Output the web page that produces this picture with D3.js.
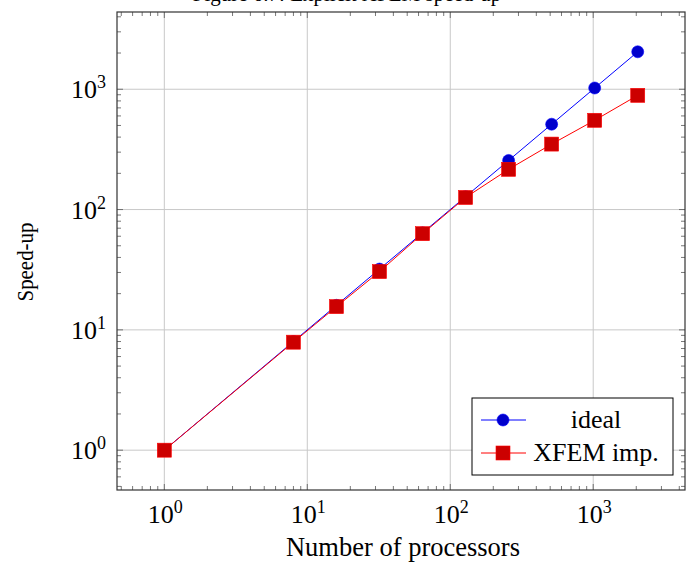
<!DOCTYPE html>
<html>
<head>
<meta charset="utf-8">
<script src="https://cdn.jsdelivr.net/npm/d3@7"></script>
<style>
  body { margin: 0; background: #fff; }
  text { font-family: "Liberation Serif", "DejaVu Serif", serif; fill: #000; }
</style>
</head>
<body>
<div id="chart"></div>
<script>
"use strict";

// processor counts (x) and measured speed-up (y)
const processors = [1, 8, 16, 32, 64, 128, 256, 512, 1024, 2048];
const ideal = [1, 8, 16, 32, 64, 128, 256, 512, 1024, 2048];
const xfem = [1, 7.9, 15.6, 30.5, 63, 126, 216, 350, 552, 890];
const decades = [1, 10, 100, 1000];
const seriesNames = ["ideal", "XFEM imp."];

const width = 688, height = 562;
const box = { left: 117, right: 685, top: 12, bottom: 490 };

const svg = d3.select("#chart").append("svg")
    .attr("width", width)
    .attr("height", height);

// pgfplots style: enlarge log limits by 10% of the data range
const lo = Math.pow(10, -0.331), hi = Math.pow(10, 3.642);
const x = d3.scaleLog().domain([lo, hi]).range([box.left, box.right]);
const y = d3.scaleLog().domain([lo, hi]).range([box.bottom, box.top]);

const minors = [];
for (let e = -1; e <= 3; ++e) {
    for (let k = 2; k <= 9; ++k) {
        const v = k * Math.pow(10, e);
        if (v >= lo && v <= hi) minors.push(v);
    }
}

// grid
const grid = svg.append("g").attr("stroke", "#c8c8c8").attr("stroke-width", 1);
grid.selectAll(".gx").data(decades).enter().append("line")
    .attr("x1", d => x(d)).attr("x2", d => x(d))
    .attr("y1", box.top).attr("y2", box.bottom);
grid.selectAll(".gy").data(decades).enter().append("line")
    .attr("y1", d => y(d)).attr("y2", d => y(d))
    .attr("x1", box.left).attr("x2", box.right);

// inward ticks on all four sides
const ticks = svg.append("g").attr("stroke", "#555").attr("stroke-width", 0.8);
const tickSet = decades.map(d => ({ v: d, len: 6 })).concat(minors.map(d => ({ v: d, len: 4 })));
tickSet.forEach(t => {
    ticks.append("line").attr("x1", x(t.v)).attr("x2", x(t.v))
        .attr("y1", box.bottom).attr("y2", box.bottom - t.len);
    ticks.append("line").attr("x1", x(t.v)).attr("x2", x(t.v))
        .attr("y1", box.top).attr("y2", box.top + t.len);
    ticks.append("line").attr("y1", y(t.v)).attr("y2", y(t.v))
        .attr("x1", box.left).attr("x2", box.left + t.len);
    ticks.append("line").attr("y1", y(t.v)).attr("y2", y(t.v))
        .attr("x1", box.right).attr("x2", box.right - t.len);
});

svg.append("rect")
    .attr("x", box.left).attr("y", box.top)
    .attr("width", box.right - box.left).attr("height", box.bottom - box.top)
    .attr("fill", "none").attr("stroke", "#333").attr("stroke-width", 1.2);

// tick labels 10^n
const powerLabel = function (sel) {
    sel.append("tspan").text("10");
    sel.append("tspan").attr("dy", -10).attr("font-size", 18).text(d => Math.round(Math.log10(d)));
};
svg.selectAll(".xl").data(decades).enter().append("text")
    .attr("x", d => x(d) + 1).attr("y", 523)
    .attr("text-anchor", "middle").attr("font-size", 26)
    .call(powerLabel);
svg.selectAll(".yl").data(decades).enter().append("text")
    .attr("x", 106).attr("y", d => y(d) + 9)
    .attr("text-anchor", "end").attr("font-size", 26)
    .call(powerLabel);

// axis titles
svg.append("text").attr("x", (box.left + box.right) / 2 + 2).attr("y", 556)
    .attr("text-anchor", "middle").attr("font-size", 26.5).text("Number of processors");
svg.append("text").attr("transform", "translate(33," + 262 + ") rotate(-90)")
    .attr("text-anchor", "middle").attr("font-size", 24)
    .attr("textLength", 79).attr("lengthAdjust", "spacingAndGlyphs").text("Speed-up");
svg.append("text").attr("x", 347).attr("y", 1)
    .attr("text-anchor", "middle").attr("font-size", 21).text("Figure 6.7: Explicit XFEM speed-up");

// series
const line = d3.line().x(d => x(d[0])).y(d => y(d[1]));
const idealPts = processors.map((p, i) => [p, ideal[i]]);
const xfemPts = processors.map((p, i) => [p, xfem[i]]);

svg.append("path").attr("d", line(idealPts))
    .attr("fill", "none").attr("stroke", "#0000ff").attr("stroke-width", 1);
svg.append("path").attr("d", line(xfemPts))
    .attr("fill", "none").attr("stroke", "#ff0000").attr("stroke-width", 1);

svg.selectAll(".ci").data(idealPts).enter().append("circle")
    .attr("cx", d => x(d[0])).attr("cy", d => y(d[1])).attr("r", 6)
    .attr("fill", "#0000cc").attr("stroke", "#0000ff").attr("stroke-width", 0.6);
svg.selectAll(".sq").data(xfemPts).enter().append("rect")
    .attr("x", d => x(d[0]) - 7).attr("y", d => y(d[1]) - 7)
    .attr("width", 14).attr("height", 14)
    .attr("fill", "#cc0000").attr("stroke", "#ff0000").attr("stroke-width", 0.6);

// legend
const lg = svg.append("g").attr("transform", "translate(472,398)");
lg.append("rect").attr("width", 201).attr("height", 77)
    .attr("fill", "#fff").attr("stroke", "#000").attr("stroke-width", 1);
const rows = [
    { name: seriesNames[0], color: "#0000ff", fill: "#0000cc", mark: "circle", cy: 22 },
    { name: seriesNames[1], color: "#ff0000", fill: "#cc0000", mark: "square", cy: 55 }
];
rows.forEach(r => {
    lg.append("line").attr("x1", 9).attr("x2", 54).attr("y1", r.cy).attr("y2", r.cy)
        .attr("stroke", r.color).attr("stroke-width", 1);
    if (r.mark === "circle") {
        lg.append("circle").attr("cx", 31).attr("cy", r.cy).attr("r", 6)
            .attr("fill", r.fill).attr("stroke", r.color).attr("stroke-width", 0.6);
    } else {
        lg.append("rect").attr("x", 24).attr("y", r.cy - 7).attr("width", 14).attr("height", 14)
            .attr("fill", r.fill).attr("stroke", r.color).attr("stroke-width", 0.6);
    }
    lg.append("text").attr("x", 124).attr("y", r.cy + 8)
        .attr("text-anchor", "middle").attr("font-size", 26).text(r.name);
});
</script>
</body>
</html>
